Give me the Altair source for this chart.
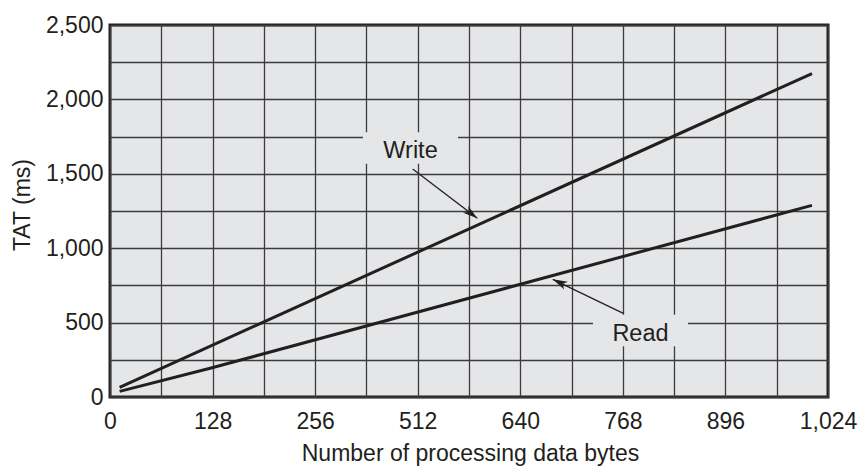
import json
import math
import altair as alt
import pandas as pd

# ---------------- data ----------------
# x positions are in units of the drawn axis (one grid cell = 64)
X_TICK_LABELS = ["0", "128", "256", "512", "640", "768", "896", "1,024"]
X_GRID_STEP = 64
X_LABEL_STEP = 128
X_MAX = 896
Y_MAX = 2500
Y_GRID_STEP = 250
Y_LABEL_STEP = 500

write_x = [12, 190, 876]
write_y = [65, 500, 2174]
read_x = [12, 125, 876]
read_y = [38, 193, 1288]

ann_text = ["Write", "Read"]
ann_x = [375, 662]
ann_y = [1604, 378]
arrow_x1 = [377.7, 640.6]
arrow_y1 = [1532, 562]
arrow_x2 = [458.4, 552.5]
arrow_y2 = [1201, 791]

# ---------------- styling ----------------
W, H = 718, 372
INK = "#231f20"
BG = "#e5e6e8"
GRID = "#3c3c3c"
FONT = "Liberation Sans"

# arrow-head angles, computed in pixel space
angles = []
for x1, y1, x2, y2 in zip(arrow_x1, arrow_y1, arrow_x2, arrow_y2):
    dx = (x2 - x1) * W / X_MAX
    dy = -(y2 - y1) * H / Y_MAX
    angles.append(math.degrees(math.atan2(dx, -dy)) % 360)

lines_df = pd.DataFrame({
    "bytes": write_x + read_x,
    "tat": write_y + read_y,
    "series": ["Write"] * len(write_x) + ["Read"] * len(read_x),
})
ann_df = pd.DataFrame({"label": ann_text, "bytes": ann_x, "tat": ann_y})
arrow_df = pd.DataFrame({
    "bytes": arrow_x1, "tat": arrow_y1,
    "bytes2": arrow_x2, "tat2": arrow_y2, "angle": angles,
})

label_expr_x = ("datum.value % {s} == 0 ? {arr}[datum.value / {s}] : ''"
                .format(s=X_LABEL_STEP, arr=json.dumps(X_TICK_LABELS)))
label_expr_y = ("datum.value % {s} == 0 ? format(datum.value, ',') : ''"
                .format(s=Y_LABEL_STEP))

x_scale = alt.Scale(domain=[0, X_MAX], nice=False, zero=False)
y_scale = alt.Scale(domain=[0, Y_MAX], nice=False, zero=False)

x_axis = alt.Axis(
    values=list(range(0, X_MAX + 1, X_GRID_STEP)),
    labelExpr=label_expr_x,
    title="Number of processing data bytes",
    grid=True, gridColor=GRID, gridWidth=1.3, gridOpacity=1,
    domain=False, ticks=False, tickSize=0,
    labelPadding=31, labelBaseline="alphabetic",
    labelFlush=False, labelOverlap=False,
    labelFontSize=23, titleFontSize=23, titleFontWeight="normal",
    titleX=360, titleY=63, titleAlign="center", titleBaseline="alphabetic",
)
y_axis = alt.Axis(
    values=list(range(0, Y_MAX + 1, Y_GRID_STEP)),
    labelExpr=label_expr_y,
    title="TAT (ms)",
    grid=True, gridColor=GRID, gridWidth=1.3, gridOpacity=1,
    domain=False, ticks=False, tickSize=0,
    labelPadding=7, labelBaseline="middle",
    labelFlush=False, labelOverlap=False,
    labelFontSize=23, titleFontSize=23, titleFontWeight="normal",
    titleAngle=270, titleX=-80.7, titleY=179.5,
    titleAlign="center", titleBaseline="alphabetic",
)


def X(field):
    return alt.X(field, type="quantitative", scale=x_scale, axis=x_axis)


def Y(field):
    return alt.Y(field, type="quantitative", scale=y_scale, axis=y_axis)


lines = alt.Chart(lines_df).mark_line(color=INK, strokeWidth=3).encode(
    x=X("bytes"), y=Y("tat"), detail="series:N"
)

boxes = alt.Chart(ann_df).mark_rect(
    fill=BG, xOffset=-47.5, x2Offset=47.5, yOffset=-26, y2Offset=5.5
).encode(
    x=X("bytes"), x2="bytes", y=Y("tat"), y2="tat"
)

texts = alt.Chart(ann_df).mark_text(
    font=FONT, fontSize=23.5, color=INK, align="center", baseline="alphabetic"
).encode(x=X("bytes"), y=Y("tat"), text="label:N")

arrow_lines = alt.Chart(arrow_df).mark_rule(color=INK, strokeWidth=1.3).encode(
    x=X("bytes"), y=Y("tat"), x2="bytes2", y2="tat2"
)

arrow_heads = alt.Chart(arrow_df).mark_point(
    shape="M0,0L0.5,1.7L0,1.25L-0.5,1.7Z",
    filled=True, fill=INK, color=INK, size=300, strokeWidth=0, opacity=1,
).encode(
    x=X("bytes2"), y=Y("tat2"), angle=alt.Angle("angle:Q", scale=None)
)

chart = alt.layer(lines, boxes, texts, arrow_lines, arrow_heads).properties(
    width=W, height=H,
    autosize=alt.AutoSizeParams(type="none"),
    padding={"left": 102, "top": 17, "right": 30, "bottom": 69},
    background="white",
).configure_view(
    fill=BG, stroke=INK, strokeWidth=3
).configure_axis(
    labelFont=FONT, titleFont=FONT, labelColor=INK, titleColor=INK
)

chart.save("out.html", embed_options={"renderer": "svg", "actions": False})
